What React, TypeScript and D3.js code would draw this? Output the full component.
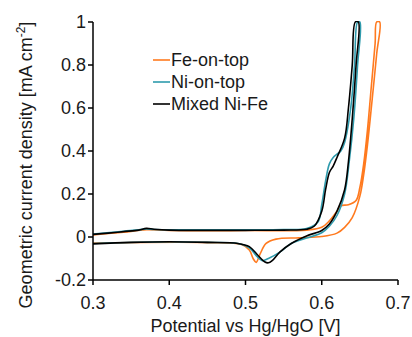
import React from "react";
import * as d3 from "d3";

type P = [number, number];

const seriesNames = ["Fe-on-top", "Ni-on-top", "Mixed Ni-Fe"];
const seriesColors = ["#FF7A1F", "#2F9BAD", "#000000"];

const xTicks = [0.3, 0.4, 0.5, 0.6, 0.7];
const yTicks = [-0.2, 0, 0.2, 0.4, 0.6, 0.8, 1];

// Fe-on-top: forward then reverse scan
const feOnTop: P[] = [
  [0.30, 0.010], [0.34, 0.022], [0.37, 0.034], [0.40, 0.030], [0.50, 0.030], [0.58, 0.032],
  [0.60, 0.045], [0.61, 0.075], [0.62, 0.120], [0.625, 0.145], [0.635, 0.150], [0.645, 0.170],
  [0.65, 0.230], [0.655, 0.340], [0.66, 0.500], [0.665, 0.700], [0.670, 0.900], [0.672, 1.000],
  [0.676, 1.000], [0.672, 0.850], [0.665, 0.600], [0.66, 0.430], [0.655, 0.290], [0.65, 0.190],
  [0.64, 0.090], [0.63, 0.045], [0.62, 0.018], [0.60, 0.002], [0.57, -0.004], [0.54, -0.010],
  [0.527, -0.030], [0.519, -0.080], [0.514, -0.118], [0.510, -0.100], [0.505, -0.060],
  [0.495, -0.035], [0.45, -0.026], [0.30, -0.028],
];

// Ni-on-top
const niOnTop: P[] = [
  [0.30, 0.014], [0.34, 0.027], [0.36, 0.033], [0.37, 0.038], [0.38, 0.035], [0.45, 0.034],
  [0.55, 0.035], [0.58, 0.040], [0.595, 0.070], [0.60, 0.150], [0.605, 0.260], [0.61, 0.340],
  [0.615, 0.370], [0.62, 0.385], [0.625, 0.400], [0.63, 0.440], [0.638, 0.600], [0.643, 0.800],
  [0.647, 1.000],
  [0.650, 1.000], [0.647, 0.800], [0.642, 0.550], [0.636, 0.350], [0.63, 0.200], [0.62, 0.100],
  [0.61, 0.050], [0.60, 0.020], [0.58, -0.005], [0.56, -0.030], [0.545, -0.070], [0.53, -0.100],
  [0.522, -0.110], [0.515, -0.090], [0.505, -0.050], [0.49, -0.030], [0.45, -0.025],
  [0.40, -0.022], [0.30, -0.030],
];

// Mixed Ni-Fe
const mixedNiFe: P[] = [
  [0.30, 0.012], [0.32, 0.018], [0.34, 0.025], [0.36, 0.032], [0.37, 0.040], [0.38, 0.036],
  [0.40, 0.032], [0.45, 0.031], [0.50, 0.031], [0.55, 0.032], [0.58, 0.036], [0.59, 0.050],
  [0.60, 0.120], [0.605, 0.220], [0.61, 0.300], [0.615, 0.330], [0.62, 0.370], [0.63, 0.460],
  [0.635, 0.600], [0.64, 0.800], [0.644, 1.000],
  [0.648, 1.000], [0.645, 0.800], [0.64, 0.550], [0.635, 0.350], [0.63, 0.220], [0.62, 0.120],
  [0.61, 0.060], [0.60, 0.030], [0.58, 0.005], [0.56, -0.030], [0.545, -0.070], [0.535, -0.110],
  [0.53, -0.120], [0.525, -0.115], [0.515, -0.080], [0.505, -0.045], [0.49, -0.030],
  [0.45, -0.025], [0.40, -0.022], [0.35, -0.025], [0.30, -0.032],
];

const allSeries = [feOnTop, niOnTop, mixedNiFe];

const W = 412;
const H = 337;
const left = 93;
const right = 398;
const top = 22;
const bottom = 280;

export default function App() {
  const x = d3.scaleLinear().domain([0.3, 0.7]).range([left, right]);
  const y = d3.scaleLinear().domain([-0.2, 1]).range([bottom, top]);
  const line = d3
    .line<P>()
    .x((d) => x(d[0]))
    .y((d) => y(Math.min(1, d[1])))
    .curve(d3.curveCatmullRom.alpha(0.5));

  const font = "Arial, 'Liberation Sans', sans-serif";
  const fs = 18;

  return (
    <svg
      width={W}
      height={H}
      style={{ position: "absolute", left: 0, top: 0, background: "#fff" }}
      fontFamily={font}
    >
      <defs>
        <clipPath id="plot">
          <rect x={left} y={top - 1} width={right - left + 2} height={bottom - top + 1} />
        </clipPath>
      </defs>
      <g clipPath="url(#plot)">
        {allSeries.map((s, i) => (
          <path
            key={i}
            d={line(s) || ""}
            fill="none"
            stroke={seriesColors[i]}
            strokeWidth={1.6}
          />
        ))}
      </g>
      <line x1={left} x2={left} y1={top} y2={bottom} stroke="#000" strokeWidth={1.5} />
      <line x1={left} x2={right} y1={bottom} y2={bottom} stroke="#000" strokeWidth={1.5} />
      {yTicks.map((t) => (
        <g key={"y" + t}>
          <line x1={left - 5} x2={left} y1={y(t)} y2={y(t)} stroke="#000" strokeWidth={1.5} />
          <text x={left - 7} y={y(t)} dy="0.35em" textAnchor="end" fontSize={fs} fill="#1a1a1a">
            {t === 0 ? "0" : t === 1 ? "1" : t.toFixed(1)}
          </text>
        </g>
      ))}
      {xTicks.map((t) => (
        <g key={"x" + t}>
          <line x1={x(t)} x2={x(t)} y1={bottom} y2={bottom + 5} stroke="#000" strokeWidth={1.5} />
          <text x={x(t)} y={bottom + 29} textAnchor="middle" fontSize={fs} fill="#1a1a1a">
            {t.toFixed(1)}
          </text>
        </g>
      ))}
      <text x={(left + right) / 2} y={332} textAnchor="middle" fontSize={fs} fill="#1a1a1a">
        Potential vs Hg/HgO [V]
      </text>
      <text
        transform={`translate(32, ${(top + bottom) / 2 + 14}) rotate(-90)`}
        textAnchor="middle"
        fontSize={fs}
        fill="#1a1a1a"
      >
        Geometric current density [mA cm
        <tspan dy={-7} fontSize={12}>-2</tspan>
        <tspan dy={7}>]</tspan>
      </text>
      {seriesNames.map((n, i) => (
        <g key={n}>
          <line x1={153} x2={170} y1={60 + i * 22} y2={60 + i * 22} stroke={seriesColors[i]} strokeWidth={1.6} />
          <text x={171} y={60 + i * 22} dy="0.35em" fontSize={fs} fill="#1a1a1a">
            {n}
          </text>
        </g>
      ))}
    </svg>
  );
}
